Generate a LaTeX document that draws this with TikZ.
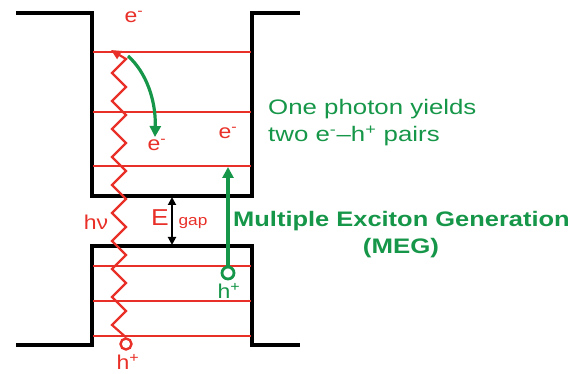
\documentclass[tikz,border=0pt]{standalone}
\usepackage{fontspec}
\setmainfont{Liberation Sans}
\usetikzlibrary{arrows.meta}
\definecolor{myred}{RGB}{232,48,40}
\definecolor{mygreen}{RGB}{22,150,72}
\begin{document}
\begin{tikzpicture}[x=1pt,y=-1pt,
  wall/.style={black,line width=3.2pt},
  level/.style={myred,line width=2pt},
  lbl/.style={inner sep=0pt,font=\fontsize{20}{22}\selectfont,xscale=1.15},
  gtxt/.style={inner sep=0pt,mygreen,font=\fontsize{21}{24}\selectfont,xscale=1.23,anchor=west},
  garrow/.style={mygreen,line width=3.2pt,-{Triangle[length=11pt,width=11pt]}}]
\useasboundingbox (0,0) rectangle (582,374);
% band outline
\draw[wall] (16,13) -- (92,13) -- (92,196) -- (252,196) -- (252,13) -- (300,13);
\draw[wall] (16,345) -- (92,345) -- (92,246) -- (252,246) -- (252,345) -- (300,345);
% energy levels
\foreach \y in {52,112,166,266,301,336}
  \draw[level] (93,\y) -- (251,\y);
% photon zigzag
\node[circle,draw=myred,line width=2.4pt,minimum size=11pt,inner sep=0pt,fill=white] (hole1) at (126,344) {};
\coordinate (ztip) at (111,50);
\draw[myred,line width=2.2pt,-{Triangle[length=10pt,width=9pt]}] (hole1.north)
  \foreach \i in {1,...,20} { -- ({ifthenelse(isodd(\i),112,126)},{339-14*\i}) } -- (ztip);
% green curved arrow
\coordinate (cstart) at (128,56);
\coordinate (cend) at (155,137);
\draw[garrow] (cstart) .. controls (146,72) and (156,100) .. (cend);
% MEG arrow
\node[circle,draw=mygreen,line width=2.8pt,minimum size=12pt,inner sep=0pt] (hole2) at (228,273) {};
\coordinate (megtip) at (228,167);
\draw[garrow] (hole2.north) -- (megtip);
% Egap arrow
\coordinate (gtop) at (172,197);
\coordinate (gbot) at (172,245);
\draw[black,line width=1.8pt,{Triangle[length=8pt,width=8pt]}-{Triangle[length=8pt,width=8pt]}] (gtop) -- (gbot);
\node[lbl,myred,font=\fontsize{23}{24}\selectfont] (E) at (160,218) {E};
\node[lbl,myred,font=\fontsize{15}{16}\selectfont] (gap) at (193,223) {gap};
% labels
\node[lbl,myred] (e1) at (134,17) {e\textsuperscript{-}};
\node[lbl,myred] (e2) at (157,145) {e\textsuperscript{-}};
\node[lbl,myred] (e3) at (228,133) {e\textsuperscript{-}};
\node[lbl,myred] (hv) at (96,222) {hν};
\node[lbl,myred] (h1) at (128,362) {h\textsuperscript{+}};
\node[lbl,mygreen] (h2) at (229,291) {h\textsuperscript{+}};
\node[gtxt] (t1) at (268,109) {One photon yields};
\node[gtxt] (t2) at (268,136) {two e\textsuperscript{-}--h\textsuperscript{+} pairs};
\node[gtxt,xscale=0.985,font=\bfseries\fontsize{21}{24}\selectfont] (t3) at (233,221) {Multiple Exciton Generation};
\node[gtxt,anchor=center,font=\bfseries\fontsize{21}{24}\selectfont] (t4) at (401,248) {(MEG)};
\end{tikzpicture}
\end{document}
